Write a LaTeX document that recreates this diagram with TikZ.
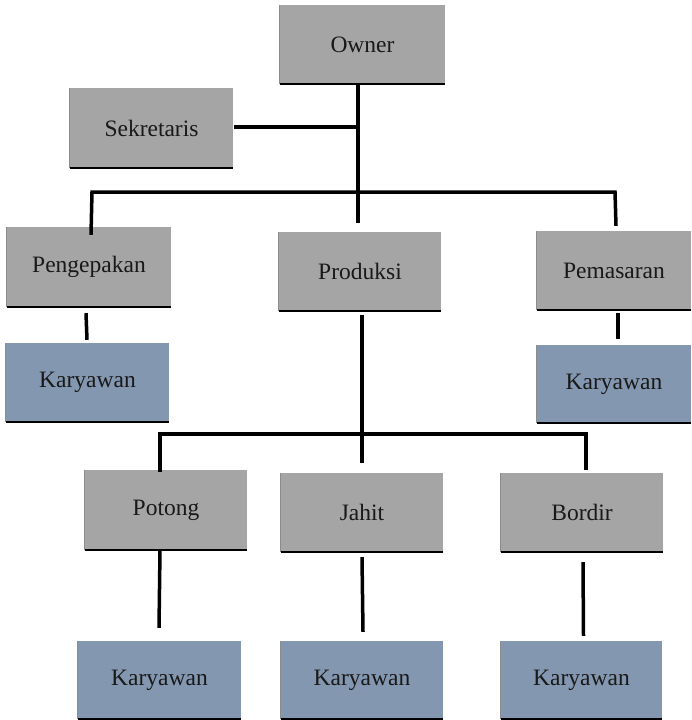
\documentclass[tikz,border=0pt]{standalone}
\usepackage{fontspec}
\setmainfont{Liberation Serif}
\definecolor{boxgray}{HTML}{A5A5A5}
\definecolor{boxblue}{HTML}{8497B0}
\tikzset{
  box/.style={rectangle, inner sep=0pt, font=\fontsize{23.5}{28}\selectfont, text=black!90},
  gbox/.style={box, fill=boxgray},
  bbox/.style={box, fill=boxblue},
  conn/.style={line width=3.5pt, black},
  botline/.style={line width=2.5pt, black},
  leftline/.style={line width=0.8pt, black!45}
}
\begin{document}
\begin{tikzpicture}[x=1pt,y=-1pt]
\useasboundingbox (0,0) rectangle (691,720);
% nodes
\node[gbox, minimum width=165pt, minimum height=79pt] (owner) at (362.5,44.5) {Owner};
\node[gbox, minimum width=163pt, minimum height=80pt] (sek) at (151.5,128) {Sekretaris};
\node[gbox, minimum width=164pt, minimum height=80pt] (peng) at (89,267) {Pengepakan};
\node[gbox, minimum width=162pt, minimum height=79pt] (prod) at (360,271.5) {Produksi};
\node[gbox, minimum width=154pt, minimum height=79pt] (pem) at (614,270.5) {Pemasaran};
\node[bbox, minimum width=163pt, minimum height=79pt] (k1) at (87.5,382.5) {Karyawan};
\node[bbox, minimum width=154pt, minimum height=78pt] (k2) at (614,384) {Karyawan};
\node[gbox, minimum width=162pt, minimum height=80pt] (pot) at (166,510) {Potong};
\node[gbox, minimum width=162pt, minimum height=79pt] (jah) at (362,512.5) {Jahit};
\node[gbox, minimum width=162pt, minimum height=79pt] (bor) at (582,512.5) {Bordir};
\node[bbox, minimum width=163pt, minimum height=78pt] (k3) at (159.5,680) {Karyawan};
\node[bbox, minimum width=162pt, minimum height=78pt] (k4) at (362,680) {Karyawan};
\node[bbox, minimum width=161pt, minimum height=78pt] (k5) at (581.5,680) {Karyawan};
% bottom edges and left edges
\foreach \n in {owner,sek,peng,prod,pem,k1,k2,pot,jah,bor,k3,k4,k5}{
  \draw[leftline] (\n.south west) -- (\n.north west);
  \draw[botline] (\n.south west) -- (\n.south east);
}
% junction coordinates
\coordinate (spine) at (358,223);
\coordinate (busL) at (92,192);
\coordinate (busR) at (615,192);
\coordinate (lbusL) at (160,434);
\coordinate (lbusR) at (586,434);
\coordinate (pvert) at (362,463);
% top connectors
\draw[conn] (owner.south -| spine) -- (spine);
\draw[conn] ([xshift=1pt,yshift=1pt]sek.east) -- ([yshift=1pt]sek.east -| spine);
\draw[conn] ([xshift=2pt,yshift=-8pt]peng.north) -- (busL) -- (busR) -- ([xshift=2pt,yshift=5pt]pem.north);
% second level
\draw[conn] ([xshift=-3pt,yshift=-6pt]peng.south) -- ([xshift=-0.5pt,yshift=3pt]k1.north);
\draw[conn] ([xshift=4pt,yshift=-3pt]pem.south) -- ([xshift=4pt,yshift=6pt]k2.north);
% produksi branch
\draw[conn] ([xshift=2pt,yshift=-4pt]prod.south) -- (pvert);
\draw[conn] ([xshift=-6pt,yshift=-2pt]pot.north) -- (lbusL) -- (lbusR) -- ([xshift=4pt,yshift=3pt]bor.north);
% bottom level
\draw[conn] ([xshift=-6pt]pot.south) -- ([xshift=-0.5pt,yshift=13pt]k3.north);
\draw[conn] ([yshift=-5pt]jah.south) -- ([xshift=1pt,yshift=9pt]k4.north);
\draw[conn] ([xshift=1pt,yshift=-10pt]bor.south) -- ([xshift=2pt,yshift=5pt]k5.north);
\end{tikzpicture}
\end{document}
